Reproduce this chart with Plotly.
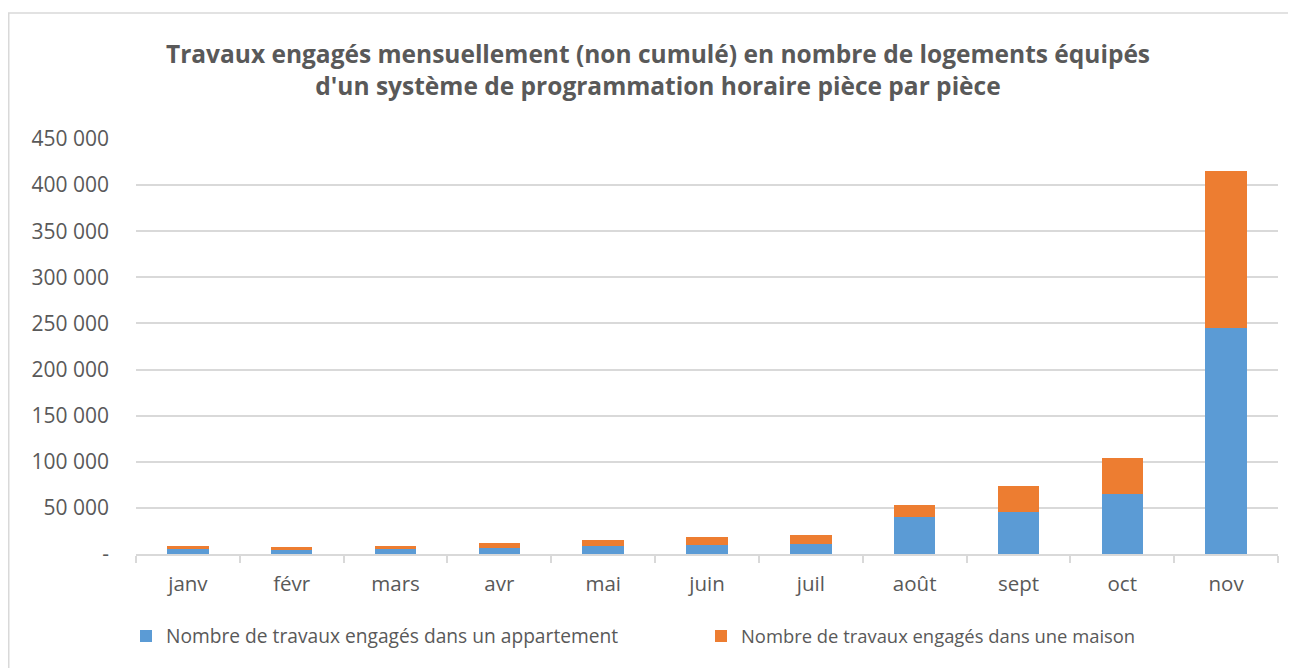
import plotly.graph_objects as go

months = ["janv", "févr", "mars", "avr", "mai", "juin", "juil", "août", "sept", "oct", "nov"]
appartement = [5400, 4700, 5400, 6500, 8700, 9300, 10800, 40100, 45100, 65000, 245600]
maison = [3600, 3200, 3600, 5000, 6500, 8700, 9800, 13400, 28900, 39400, 169200]
tick_vals = [0, 50000, 100000, 150000, 200000, 250000, 300000, 350000, 400000, 450000]
tick_text = ["-", "50 000", "100 000", "150 000", "200 000", "250 000", "300 000", "350 000", "400 000", "450 000"]

title = ("<b>Travaux engagés mensuellement (non cumulé) en nombre de logements équipés<br>"
         "d'un système de programmation horaire pièce par pièce</b>")

font_family = "Open Sans"
gray = "#595959"

fig = go.Figure()
fig.add_trace(go.Bar(x=months, y=appartement, name="Nombre de travaux engagés dans un appartement",
                     marker=dict(color="#5B9BD5", line=dict(width=0)), legend="legend", showlegend=True))
fig.add_trace(go.Bar(x=months, y=maison, name="Nombre de travaux engagés dans une maison",
                     marker=dict(color="#ED7D31", line=dict(width=0)), legend="legend2", showlegend=True))

# page body adds an 8px offset; figure coordinates = screen coordinates - 8
W, H = 1288, 660
L, R, T, B = 128, 18, 131, 114
pw, ph = W - L - R, H - T - B

legend_common = dict(orientation="h", xref="container", yref="container",
                     xanchor="left", yanchor="middle",
                     y=1 - 628 / H,
                     itemwidth=30, bgcolor="rgba(0,0,0,0)", visible=True)

fig.update_layout(
    width=W, height=H,
    showlegend=True,
    barmode="stack", bargap=0.6,
    plot_bgcolor="white", paper_bgcolor="white",
    margin=dict(l=L, r=R, t=T, b=B, autoexpand=False),
    font=dict(family=font_family, color=gray, size=20),
    title=dict(text=title, x=650 / W, xref="container", xanchor="center",
               y=1 - 55 / H, yanchor="middle",
               font=dict(size=24.5, color=gray, family=font_family)),
    xaxis=dict(showgrid=False, showline=True, linecolor="#D9D9D9", linewidth=1.5,
               ticks="outside", tickson="boundaries", ticklen=7, tickcolor="#D9D9D9", tickwidth=1.5,
               ticklabelstandoff=11, tickfont=dict(size=20.5, color=gray)),
    yaxis=dict(range=[0, 450000], tickvals=tick_vals, ticktext=tick_text,
               showgrid=True, gridcolor="#D9D9D9", gridwidth=1.5, zeroline=False,
               showline=False, ticks="", ticklabelstandoff=26,
               tickfont=dict(size=21, color=gray)),
    legend=dict(x=118 / W, font=dict(size=19.2, color=gray), **legend_common),
    legend2=dict(x=693 / W, font=dict(size=18.4, color=gray), **legend_common),
    shapes=[dict(type="rect", xref="paper", yref="paper",
                 x0=(0.75 - L) / pw, x1=(W + 10 - L) / pw,
                 y0=-(H + 10 - (H - B)) / ph, y1=1 + (T - 5) / ph,
                 line=dict(color="#D9D9D9", width=1.5), fillcolor="rgba(0,0,0,0)", layer="below")],
)

fig.write_html("out.html")
